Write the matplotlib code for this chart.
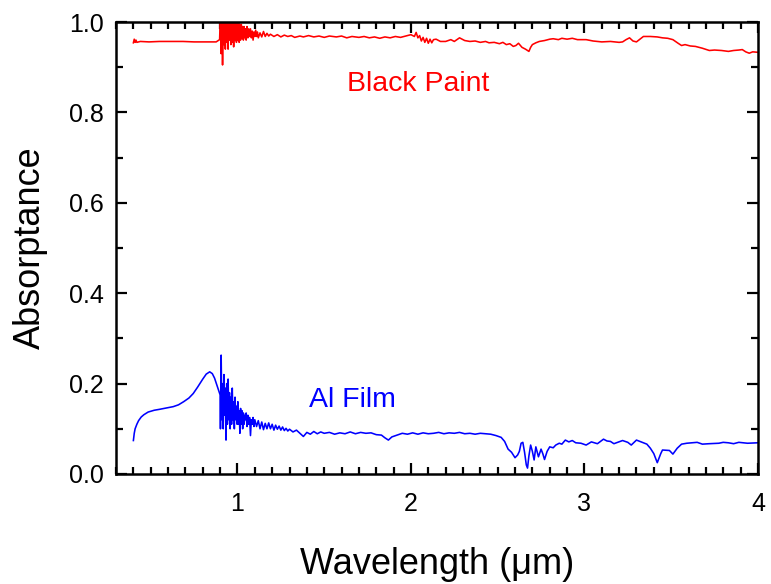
import matplotlib
matplotlib.use("Agg")
import matplotlib.pyplot as plt
from matplotlib.ticker import MultipleLocator, FormatStrFormatter

plt.rcParams['font.family'] = ['Liberation Sans', 'DejaVu Sans']

# Al film absorptance spectrum
al_wl = [0.400, 0.405, 0.410, 0.420, 0.430, 0.445, 0.460, 0.485, 0.52, 0.55,
         0.59, 0.63, 0.66, 0.69, 0.72, 0.745, 0.77, 0.80, 0.82, 0.84,
         0.855, 0.868, 0.88, 0.89, 0.90,
         0.902, 0.906, 0.910, 0.914, 0.918, 0.922, 0.926, 0.930, 0.934, 0.938,
         0.942, 0.946, 0.950, 0.954, 0.958, 0.962, 0.966, 0.970, 0.974, 0.978,
         0.982, 0.986, 0.990, 0.994, 0.998, 1.002, 1.006, 1.010, 1.014, 1.018,
         1.022, 1.026, 1.030, 1.034, 1.038, 1.042, 1.046, 1.050, 1.055, 1.060,
         1.065, 1.070, 1.075, 1.080, 1.085, 1.090, 1.095, 1.100,
         1.11, 1.12, 1.13, 1.14, 1.15, 1.16, 1.17, 1.18, 1.19, 1.20,
         1.21, 1.22, 1.23, 1.24, 1.25, 1.26, 1.27, 1.28, 1.29, 1.30,
         1.32, 1.34, 1.36, 1.38, 1.40, 1.42, 1.44, 1.46, 1.48, 1.50,
         1.53, 1.56, 1.59, 1.62, 1.65, 1.68, 1.71, 1.74, 1.77, 1.80,
         1.83, 1.85, 1.87, 1.89, 1.92, 1.95, 1.98, 2.01, 2.04, 2.07,
         2.10, 2.13, 2.16, 2.19, 2.22, 2.25, 2.28, 2.31, 2.34, 2.37,
         2.40, 2.43, 2.46, 2.49, 2.52, 2.54, 2.56, 2.58, 2.60, 2.615,
         2.625, 2.635, 2.645, 2.655, 2.665, 2.672, 2.68, 2.69, 2.70, 2.71,
         2.72, 2.735, 2.75, 2.76, 2.77, 2.785, 2.80, 2.82, 2.835, 2.855,
         2.87, 2.89, 2.91, 2.93, 2.95, 2.98, 3.01, 3.04, 3.075, 3.11,
         3.13, 3.15, 3.17, 3.22, 3.25, 3.27, 3.30, 3.34, 3.36, 3.38,
         3.40, 3.42, 3.44, 3.45, 3.49, 3.51, 3.535, 3.56, 3.59, 3.62,
         3.65, 3.68, 3.72, 3.775, 3.80, 3.83, 3.86, 3.89, 3.94, 4.00]
al_abs = [0.074, 0.090, 0.100, 0.110, 0.118, 0.126, 0.131, 0.137, 0.141, 0.143,
          0.146, 0.149, 0.153, 0.160, 0.168, 0.178, 0.192, 0.210, 0.221, 0.226,
          0.222, 0.212, 0.198, 0.186, 0.175,
          0.10, 0.263, 0.12, 0.20, 0.10, 0.22, 0.13, 0.19, 0.075, 0.20,
          0.11, 0.21, 0.12, 0.18, 0.10, 0.17, 0.11, 0.19, 0.12, 0.16,
          0.10, 0.17, 0.12, 0.15, 0.11, 0.16, 0.11, 0.14, 0.09, 0.145,
          0.11, 0.14, 0.10, 0.135, 0.11, 0.13, 0.12, 0.135, 0.105, 0.13,
          0.11, 0.125, 0.085, 0.12, 0.11, 0.125, 0.105, 0.12,
          0.105, 0.118, 0.100, 0.115, 0.098, 0.112, 0.100, 0.113, 0.100, 0.110,
          0.097, 0.108, 0.099, 0.106, 0.097, 0.104, 0.096, 0.101, 0.095, 0.099,
          0.093, 0.097, 0.090, 0.083, 0.092, 0.088, 0.094, 0.089, 0.093, 0.090,
          0.092, 0.088, 0.091, 0.089, 0.093, 0.089, 0.092, 0.090, 0.091, 0.087,
          0.086, 0.080, 0.075, 0.082, 0.086, 0.090, 0.088, 0.091, 0.088, 0.091,
          0.089, 0.090, 0.092, 0.089, 0.091, 0.090, 0.092, 0.089, 0.090, 0.088,
          0.090, 0.089, 0.088, 0.085, 0.081, 0.072, 0.055, 0.048, 0.036, 0.042,
          0.050, 0.068, 0.070, 0.048, 0.020, 0.013, 0.040, 0.064, 0.050, 0.031,
          0.060, 0.038, 0.055, 0.045, 0.032, 0.050, 0.060, 0.058, 0.064, 0.068,
          0.066, 0.075, 0.071, 0.074, 0.069, 0.068, 0.064, 0.071, 0.067, 0.077,
          0.073, 0.072, 0.067, 0.074, 0.070, 0.064, 0.075, 0.069, 0.066, 0.057,
          0.045, 0.025, 0.045, 0.053, 0.052, 0.044, 0.057, 0.066, 0.068, 0.069,
          0.070, 0.066, 0.067, 0.068, 0.070, 0.069, 0.067, 0.070, 0.068, 0.069]

# black paint absorptance spectrum
paint_wl = [0.400, 0.405, 0.410, 0.415, 0.420, 0.44, 0.49, 0.55, 0.62, 0.686,
            0.75, 0.80, 0.85, 0.877, 0.897,
            0.902, 0.906, 0.910, 0.914, 0.918, 0.922, 0.926, 0.930, 0.934, 0.938,
            0.942, 0.946, 0.950, 0.954, 0.958, 0.962, 0.966, 0.970, 0.974, 0.978,
            0.982, 0.986, 0.990, 0.994, 0.998, 1.002, 1.006, 1.010, 1.014, 1.018,
            1.022, 1.026, 1.030, 1.034, 1.038, 1.042, 1.046, 1.050, 1.055, 1.060,
            1.065, 1.070, 1.075, 1.080, 1.085, 1.090, 1.095, 1.100, 1.105, 1.11,
            1.115, 1.12,
            1.13, 1.14, 1.15, 1.16, 1.17, 1.18, 1.19, 1.21, 1.23, 1.25,
            1.27, 1.29, 1.31, 1.33, 1.36, 1.38, 1.41, 1.44, 1.47, 1.50,
            1.53, 1.57, 1.60, 1.63, 1.66, 1.70, 1.73, 1.76, 1.79, 1.82,
            1.85, 1.88, 1.91, 1.94, 1.97, 2.00, 2.02, 2.03, 2.04, 2.05,
            2.06, 2.07, 2.08, 2.09, 2.10, 2.11, 2.12, 2.13, 2.145, 2.17,
            2.20, 2.23, 2.25, 2.28, 2.31, 2.34, 2.37, 2.40, 2.43, 2.45,
            2.48, 2.51, 2.53, 2.55, 2.57, 2.59, 2.605, 2.62, 2.64, 2.66,
            2.68, 2.69, 2.70, 2.72, 2.74, 2.77, 2.80, 2.82, 2.85, 2.87,
            2.90, 2.93, 2.96, 3.01, 3.05, 3.10, 3.15, 3.20, 3.22, 3.24,
            3.26, 3.28, 3.30, 3.32, 3.34, 3.38, 3.42, 3.45, 3.48, 3.51,
            3.54, 3.56, 3.58, 3.61, 3.64, 3.68, 3.72, 3.75, 3.79, 3.83,
            3.86, 3.89, 3.91, 3.93, 3.95, 3.97, 4.00]
paint_abs = [0.954, 0.962, 0.955, 0.960, 0.955, 0.957, 0.956, 0.957, 0.957, 0.957,
             0.956, 0.956, 0.956, 0.956, 0.961,
             1.02, 0.93, 1.03, 0.905, 1.02, 0.95, 1.03, 0.94, 1.02, 0.955,
             1.03, 0.94, 1.01, 0.96, 1.02, 0.95, 1.01, 0.955, 1.02, 0.945,
             1.01, 0.96, 1.01, 0.955, 1.005, 0.96, 1.00, 0.955, 0.995, 0.96,
             0.995, 0.965, 0.99, 0.96, 0.99, 0.965, 0.985, 0.96, 0.99, 0.965,
             0.985, 0.968, 0.985, 0.965, 0.98, 0.96, 0.978, 0.968, 0.982, 0.968,
             0.978, 0.965,
             0.976, 0.967, 0.979, 0.968, 0.975, 0.969, 0.973, 0.968, 0.972, 0.967,
             0.971, 0.968, 0.970, 0.966, 0.969, 0.967, 0.970, 0.967, 0.969, 0.966,
             0.969, 0.967, 0.969, 0.965, 0.968, 0.966, 0.968, 0.965, 0.967, 0.964,
             0.967, 0.965, 0.968, 0.966, 0.969, 0.972, 0.968, 0.977, 0.965, 0.970,
             0.958, 0.966, 0.955, 0.964, 0.953, 0.962, 0.954, 0.961, 0.962, 0.957,
             0.957, 0.961, 0.957, 0.965, 0.959, 0.957, 0.958, 0.955, 0.957, 0.954,
             0.955, 0.952, 0.955, 0.950, 0.952, 0.946, 0.948, 0.953, 0.944, 0.940,
             0.935, 0.944, 0.950, 0.954, 0.957, 0.959, 0.962, 0.963, 0.961, 0.964,
             0.962, 0.964, 0.961, 0.961, 0.958, 0.956, 0.957, 0.955, 0.956, 0.961,
             0.965, 0.958, 0.956, 0.962, 0.968, 0.968, 0.967, 0.965, 0.964, 0.961,
             0.953, 0.948, 0.950, 0.947, 0.946, 0.942, 0.937, 0.938, 0.937, 0.935,
             0.937, 0.938, 0.939, 0.934, 0.931, 0.934, 0.933]

fig = plt.figure(figsize=(7.71, 5.84), dpi=100)
ax = fig.add_axes([0.1505, 0.1884, 0.8325, 0.7739])

ax.plot(paint_wl, paint_abs, color='#ff0000', lw=1.15)
ax.plot(al_wl, al_abs, color='#0000ff', lw=1.15)

ax.text(2.04, 0.863, 'Black Paint', color='#ff0000', fontsize=20.5,
        ha='center', va='center')
ax.text(1.66, 0.164, 'Al Film', color='#0000ff', fontsize=20.5,
        ha='center', va='center')

ax.set_xlim(0.3, 4.0)
ax.set_ylim(0.0, 1.0)
ax.xaxis.set_major_locator(MultipleLocator(1))
ax.xaxis.set_minor_locator(MultipleLocator(0.1))
ax.yaxis.set_major_locator(MultipleLocator(0.2))
ax.yaxis.set_minor_locator(MultipleLocator(0.1))
ax.yaxis.set_major_formatter(FormatStrFormatter('%.1f'))

ax.tick_params(which='both', direction='in', top=True, right=True, width=1.6,
               labelsize=18)
ax.tick_params(axis='x', pad=13)
ax.tick_params(axis='y', pad=9)
ax.tick_params(which='major', length=8)
ax.tick_params(which='minor', length=5)
for s in ax.spines.values():
    s.set_linewidth(1.8)

ax.set_xlabel('Wavelength (\u03bcm)', fontsize=26, labelpad=22)
ax.set_ylabel('Absorptance', fontsize=26, labelpad=15)

fig.savefig('out.png', dpi=100)
